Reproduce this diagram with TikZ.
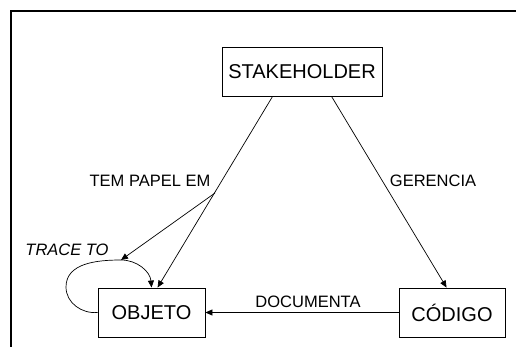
\documentclass[tikz,border=0pt]{standalone}
\usepackage{fontspec}
\setmainfont{Liberation Sans}
\usetikzlibrary{arrows.meta}
\begin{document}
\begin{tikzpicture}[x=1pt,y=-1pt,
  box/.style={draw,line width=0.9pt,inner sep=0pt,font=\fontsize{20}{24}\selectfont},
  lbl/.style={anchor=base,inner sep=0pt,font=\fontsize{16.5}{20}\selectfont},
  arr/.style={line width=0.7pt,-{Triangle[length=7pt,width=6pt]}},
  ln/.style={line width=0.7pt}]
\useasboundingbox (0,0) rectangle (516,347);
\draw[line width=1.5pt] (11,347) -- (11,11) -- (516,11);
\node[box,minimum width=160pt,minimum height=49pt] (stk) at (302,71.5) {STAKEHOLDER};
\node[box,minimum width=107pt,minimum height=49pt] (obj) at (151.5,312.5) {OBJETO};
\node[box,minimum width=106pt,minimum height=49pt] (cod) at (452,312.5) {CÓDIGO};
\coordinate (j) at (215,193);
\coordinate (lt) at (121,260);
\coordinate (ll) at (66,287);
% stakeholder -> objeto
\draw[arr] ([xshift=51pt]stk.south west) -- ([xshift=60pt]obj.north west);
\draw[arr] (j) -- (lt);
% stakeholder -> codigo
\draw[arr] ([xshift=110pt]stk.south west) -- ([xshift=48pt]cod.north west);
% codigo -> objeto
\draw[arr] (cod.west) -- (obj.east);
% trace to loop
\draw[ln] (obj.west) to[out=185,in=270] (ll) to[out=90,in=180] (lt);
\draw[arr] (lt) to[out=0,in=95] ([xshift=54pt]obj.north west);
% labels
\node[lbl] (l1) at (150,187) {TEM PAPEL EM};
\node[lbl] (l2) at (433,187) {GERENCIA};
\node[lbl] (l3) at (308,307) {DOCUMENTA};
\node[lbl,font=\fontsize{16.5}{20}\selectfont\itshape] (l4) at (67,255) {TRACE TO};
\end{tikzpicture}
\end{document}
